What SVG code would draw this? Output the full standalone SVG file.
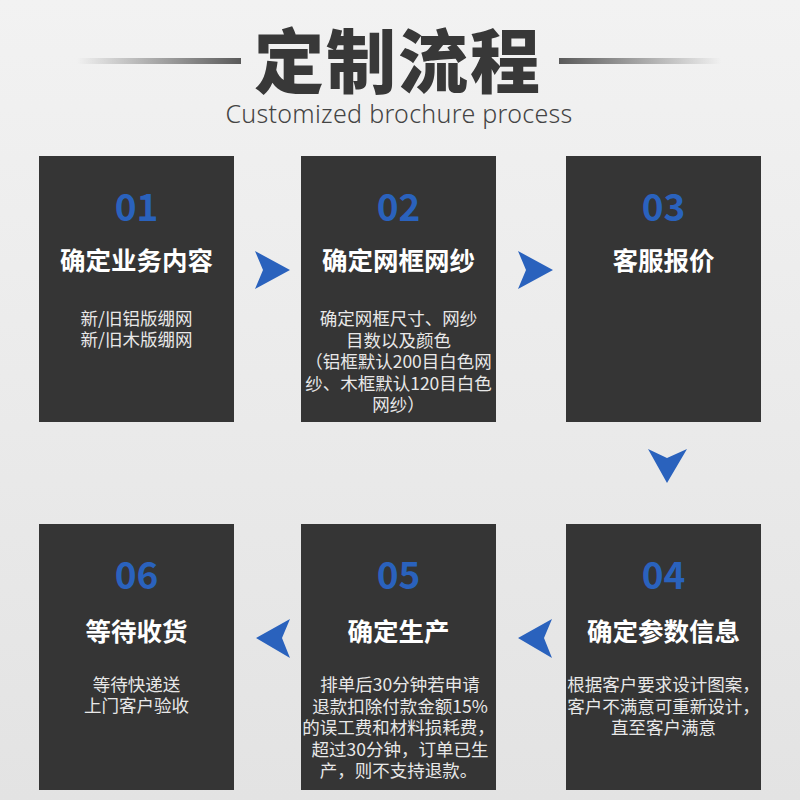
<svg xmlns="http://www.w3.org/2000/svg" width="800" height="800" viewBox="0 0 800 800">
<defs>
<linearGradient id="bg" x1="0" y1="0" x2="0" y2="1">
<stop offset="0" stop-color="#f2f2f2"/>
<stop offset="1" stop-color="#e3e3e3"/>
</linearGradient>
<linearGradient id="ll" x1="0" y1="0" x2="1" y2="0">
<stop offset="0" stop-color="#5a5a5a" stop-opacity="0"/>
<stop offset="1" stop-color="#5a5a5a"/>
</linearGradient>
<linearGradient id="lr" x1="0" y1="0" x2="1" y2="0">
<stop offset="0" stop-color="#5a5a5a"/>
<stop offset="1" stop-color="#5a5a5a" stop-opacity="0"/>
</linearGradient>
<style>
.box{fill:#353535}
.num{font-family:"Noto Sans CJK SC","Noto Sans",sans-serif;font-weight:700;font-size:37px;fill:#2a62bd;text-anchor:middle}
.ttl{font-family:"Noto Sans CJK SC",sans-serif;font-weight:700;font-size:25.5px;fill:#ffffff;text-anchor:middle}
.dsc{font-family:"Noto Sans CJK SC",sans-serif;font-size:17.5px;fill:#e8e8e8;text-anchor:middle}
.arr{fill:#2a62bd}
</style>
</defs>
<rect width="800" height="800" fill="url(#bg)"/>
<g id="header">
<rect x="77" y="58" width="164" height="6" fill="url(#ll)"/>
<rect x="559" y="58" width="162" height="6" fill="url(#lr)"/>
<text x="398" y="88" font-family="Noto Sans CJK SC,sans-serif" font-weight="900" font-size="70" fill="#383838" text-anchor="middle" letter-spacing="2">定制流程</text>
<text x="399" y="123" font-family="Noto Sans,sans-serif" font-weight="300" font-size="25" fill="#444444" text-anchor="middle" letter-spacing="0.3">Customized brochure process</text>
</g>
<g id="step01">
<rect class="box" x="39" y="156" width="195" height="266"/>
<text class="num" x="136.5" y="221">01</text>
<text class="ttl" x="136.5" y="270">确定业务内容</text>
<text class="dsc" x="136.5" y="325">新/旧铝版绷网</text>
<text class="dsc" x="136.5" y="346">新/旧木版绷网</text>
</g>
<g id="step02">
<rect class="box" x="301" y="156" width="195" height="266"/>
<text class="num" x="398.5" y="221">02</text>
<text class="ttl" x="398.5" y="270">确定网框网纱</text>
<text class="dsc" x="398.5" y="325">确定网框尺寸、网纱</text>
<text class="dsc" x="398.5" y="346.5">目数以及颜色</text>
<text class="dsc" x="398.5" y="368">（铝框默认200目白色网</text>
<text class="dsc" x="398.5" y="389.5">纱、木框默认120目白色</text>
<text class="dsc" x="398.5" y="411">网纱）</text>
</g>
<g id="step03">
<rect class="box" x="566" y="156" width="195" height="266"/>
<text class="num" x="663.5" y="221">03</text>
<text class="ttl" x="663.5" y="270">客服报价</text>
</g>
<g id="step04">
<rect class="box" x="566" y="524" width="195" height="266"/>
<text class="num" x="663.5" y="589">04</text>
<text class="ttl" x="663.5" y="641">确定参数信息</text>
<text class="dsc" x="663.5" y="691">根据客户要求设计图案，</text>
<text class="dsc" x="663.5" y="712.5">客户不满意可重新设计，</text>
<text class="dsc" x="663.5" y="734">直至客户满意</text>
</g>
<g id="step05">
<rect class="box" x="301" y="524" width="195" height="266"/>
<text class="num" x="398.5" y="589">05</text>
<text class="ttl" x="398.5" y="641">确定生产</text>
<text class="dsc" x="400" y="691">排单后30分钟若申请</text>
<text class="dsc" x="400" y="712.5">退款扣除付款金额15%</text>
<text class="dsc" x="398.5" y="734">的误工费和材料损耗费，</text>
<text class="dsc" x="400" y="755.5">超过30分钟，订单已生</text>
<text class="dsc" x="398.5" y="777">产，则不支持退款。</text>
</g>
<g id="step06">
<rect class="box" x="39" y="524" width="195" height="266"/>
<text class="num" x="136.5" y="589">06</text>
<text class="ttl" x="136.5" y="641">等待收货</text>
<text class="dsc" x="136.5" y="691">等待快递送</text>
<text class="dsc" x="136.5" y="712">上门客户验收</text>
</g>
<g id="connectors">
<path class="arr" d="M255,251 L290,270 L255,289 L263,270 Z"/>
<path class="arr" d="M518,251 L553,270 L518,289 L526,270 Z"/>
<path class="arr" d="M648,449 L667,458 L687,449 L667,483 Z"/>
<path class="arr" d="M552,619 L518,638 L552,658 L544,638 Z"/>
<path class="arr" d="M290,619 L256,638 L290,658 L282,638 Z"/>
</g>
</svg>
